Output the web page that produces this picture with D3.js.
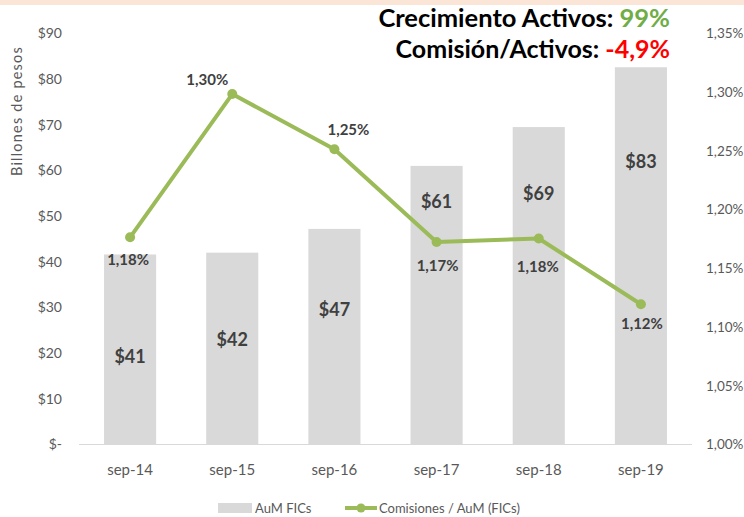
<!DOCTYPE html>
<html><head><meta charset="utf-8">
<script src="https://cdn.jsdelivr.net/npm/d3@7"></script>
<style>body{margin:0;background:#fff}svg{display:block}</style>
</head><body>
<svg id="c" width="744" height="517"></svg>
<script>
const categories = ["sep-14","sep-15","sep-16","sep-17","sep-18","sep-19"];
const aum = [41.5, 41.9, 47.1, 60.9, 69.4, 82.5];
const aumLabels = ["$41","$42","$47","$61","$69","$83"];
const ratio = [1.176, 1.298, 1.251, 1.172, 1.175, 1.119];
const ratioLabels = ["1,18%","1,30%","1,25%","1,17%","1,18%","1,12%"];
const leftTicks = [0,10,20,30,40,50,60,70,80,90];
const leftTickLabels = ["$-","$10","$20","$30","$40","$50","$60","$70","$80","$90"];
const rightTicks = [1.00,1.05,1.10,1.15,1.20,1.25,1.30,1.35];
const rightTickLabels = ["1,00%","1,05%","1,10%","1,15%","1,20%","1,25%","1,30%","1,35%"];
const seriesNames = ["AuM FICs","Comisiones / AuM (FICs)"];

// layout (label anchors in data units, offsets in px)
const barLabelAt = [19.2, 22.8, 29.3, 53.0, 54.8, 61.8];
const lineLabelOffset = [[-2,22],[-25,-14],[14,-20],[1,24],[-1,28],[1,19]];

const FONT = "Lato, 'Open Sans', sans-serif";
const svg = d3.select("#c");
svg.append("rect").attr("x",0).attr("y",0).attr("width",744).attr("height",5).attr("fill","#FBE5D6");

const x = d3.scaleBand().domain(categories).range([79,692]).paddingInner(0.49).paddingOuter(0.245);
const y = d3.scaleLinear().domain([0,90]).range([444,33]);
const y2 = d3.scaleLinear().domain([1.00,1.35]).range([444,33]);

// bars
svg.append("g").selectAll("rect").data(aum).join("rect")
  .attr("x",(d,i)=>x(categories[i])).attr("width",x.bandwidth())
  .attr("y",d=>y(d)).attr("height",d=>y(0)-y(d)).attr("fill","#D9D9D9");

// baseline
svg.append("line").attr("x1",79).attr("x2",692).attr("y1",y(0)+0.5).attr("y2",y(0)+0.5)
  .attr("stroke","#D9D9D9").attr("stroke-width",1.2);

// left axis
const la = d3.axisLeft(y).tickValues(leftTicks).tickSize(0).tickFormat((d,i)=>leftTickLabels[i]);
const gl = svg.append("g").attr("transform","translate(62,0)").call(la);
gl.select(".domain").remove();
gl.selectAll("text").attr("x",0).attr("dy","0.35em").attr("fill","#595959").style("font-family",FONT).style("font-size","14px");

// right axis
const ra = d3.axisRight(y2).tickValues(rightTicks).tickSize(0).tickFormat((d,i)=>rightTickLabels[i]);
const gr = svg.append("g").attr("transform","translate(706,0)").call(ra);
gr.select(".domain").remove();
gr.selectAll("text").attr("x",0).attr("dy","0.35em").attr("fill","#595959").style("font-family",FONT).style("font-size","13.5px");

// x axis
const xa = d3.axisBottom(x).tickSize(0);
const gx = svg.append("g").attr("transform","translate(0,470)").call(xa);
gx.select(".domain").remove();
gx.selectAll("text").attr("y",0).attr("dy","0.35em").attr("fill","#595959").style("font-family",FONT).style("font-size","15px");

// y axis title
svg.append("text").attr("transform","translate(22,111) rotate(-90)").attr("text-anchor","middle")
  .attr("fill","#595959").style("font-family",FONT).style("font-size","14.5px").style("letter-spacing","1.2px")
  .text("Billones de pesos");

// bar labels
svg.append("g").selectAll("text").data(aumLabels).join("text")
  .attr("x",(d,i)=>x(categories[i])+x.bandwidth()/2).attr("y",(d,i)=>y(barLabelAt[i]))
  .attr("dy","0.35em").attr("text-anchor","middle").attr("fill","#404040")
  .style("font-family",FONT).style("font-weight","bold").style("font-size","18px").text(d=>d);

// line
const cx = i=>x(categories[i])+x.bandwidth()/2;
const line = d3.line().x((d,i)=>cx(i)).y(d=>y2(d));
svg.append("path").datum(ratio).attr("d",line).attr("fill","none").attr("stroke","#9BBB59")
  .attr("stroke-width",4).attr("stroke-linejoin","round");
svg.append("g").selectAll("circle").data(ratio).join("circle")
  .attr("cx",(d,i)=>cx(i)).attr("cy",d=>y2(d)).attr("r",5).attr("fill","#9BBB59");
svg.append("g").selectAll("text").data(ratioLabels).join("text")
  .attr("x",(d,i)=>cx(i)+lineLabelOffset[i][0]).attr("y",(d,i)=>y2(ratio[i])+lineLabelOffset[i][1])
  .attr("dy","0.35em").attr("text-anchor","middle").attr("fill","#404040")
  .style("font-family",FONT).style("font-weight","bold").style("font-size","15px").text(d=>d);

// headline
const h1 = svg.append("text").attr("x",670).attr("y",18).attr("dy","0.35em").attr("text-anchor","end")
  .style("font-family",FONT).style("font-weight","bold").style("font-size","25.5px").attr("fill","#000");
h1.append("tspan").text("Crecimiento Activos: ");
h1.append("tspan").attr("fill","#70AD47").text("99%");
const h2 = svg.append("text").attr("x",670).attr("y",49).attr("dy","0.35em").attr("text-anchor","end")
  .style("font-family",FONT).style("font-weight","bold").style("font-size","25px").attr("fill","#000");
h2.append("tspan").text("Comisión/Activos: ");
h2.append("tspan").attr("fill","#FF0000").text("-4,9%");

// legend
const lg = svg.append("g");
const ly = 508;
lg.append("rect").attr("x",218).attr("y",ly-5).attr("width",34).attr("height",10).attr("fill","#D9D9D9");
lg.append("text").attr("x",255).attr("y",ly).attr("dy","0.35em").attr("fill","#595959")
  .style("font-family",FONT).style("font-size","13px").text(seriesNames[0]);
lg.append("line").attr("x1",345).attr("x2",377).attr("y1",ly).attr("y2",ly).attr("stroke","#9BBB59").attr("stroke-width",4);
lg.append("circle").attr("cx",361).attr("cy",ly).attr("r",4.5).attr("fill","#9BBB59");
lg.append("text").attr("x",379).attr("y",ly).attr("dy","0.35em").attr("fill","#595959")
  .style("font-family",FONT).style("font-size","13px").text(seriesNames[1]);
</script>
</body></html>
